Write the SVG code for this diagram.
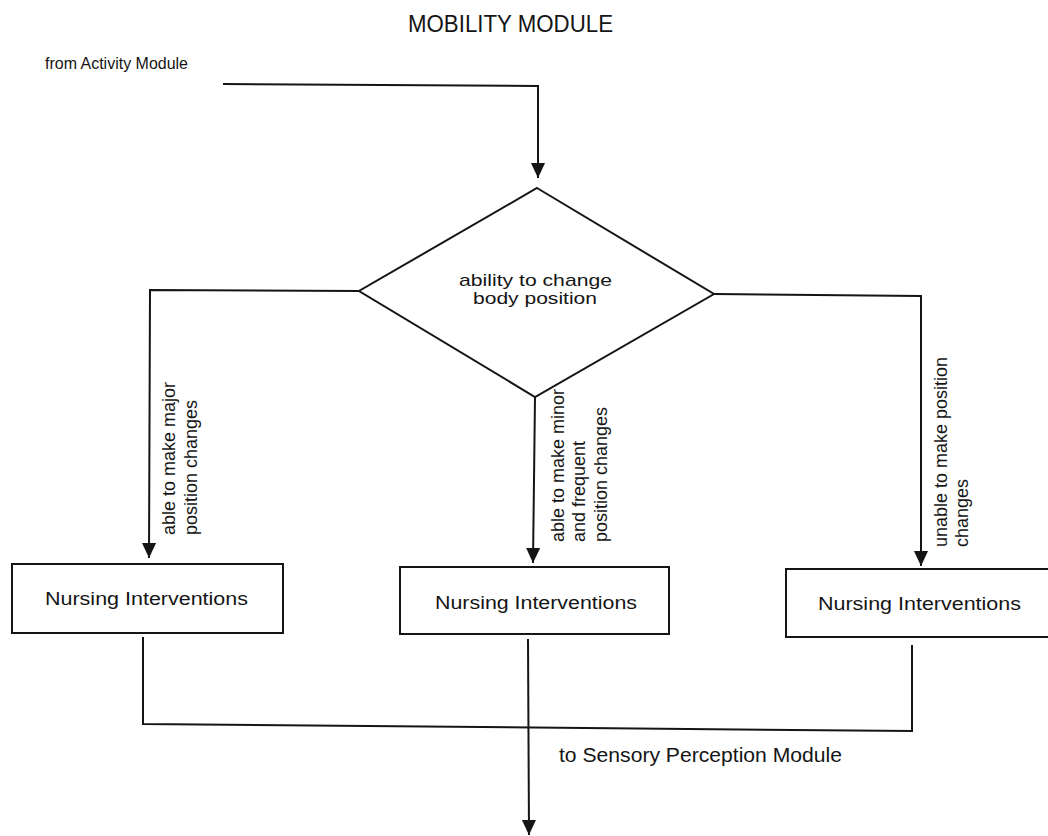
<svg xmlns="http://www.w3.org/2000/svg" width="1048" height="836" viewBox="0 0 1048 836">
<style>
  .t { font-family: "Liberation Sans", Arial, sans-serif; fill: #151515; }
  .shape { fill: #ffffff; stroke: #151515; stroke-width: 2; }
  .conn { fill: none; stroke: #151515; stroke-width: 2; }
</style>
<defs>
  <marker id="arrow" markerUnits="userSpaceOnUse" markerWidth="15" markerHeight="16" refX="16" refY="7.5" orient="auto" viewBox="0 0 16 15">
    <path d="M0,0 L16,7.5 L0,15 z" fill="#151515"/>
  </marker>
</defs>
<rect width="1048" height="836" fill="#ffffff"/>

<g id="title">
  <text class="t" x="408" y="32" font-size="23" textLength="205" lengthAdjust="spacingAndGlyphs">MOBILITY MODULE</text>
</g>

<g id="from-activity">
  <text class="t" x="45" y="69" font-size="17" textLength="143" lengthAdjust="spacingAndGlyphs">from Activity Module</text>
</g>

<g id="connectors">
  <polyline class="conn" points="223,84 538,86 538,178" marker-end="url(#arrow)"/>
  <polyline class="conn" points="359,291 150,290 149,558" marker-end="url(#arrow)"/>
  <polyline class="conn" points="535,397 533,563" marker-end="url(#arrow)"/>
  <polyline class="conn" points="714,294 921,296 921,566" marker-end="url(#arrow)"/>
  <polyline class="conn" points="143,637 143,724 912,731 912,645"/>
  <polyline class="conn" points="528,639 529,835" marker-end="url(#arrow)"/>
</g>

<g id="decision">
  <polygon class="shape" points="537,188 714,294 535,397 359,291"/>
  <text class="t" x="459" y="286" font-size="17" textLength="153" lengthAdjust="spacingAndGlyphs">ability to change</text>
  <text class="t" x="473" y="304" font-size="17" textLength="124" lengthAdjust="spacingAndGlyphs">body position</text>
</g>

<g id="label-major">
  <text class="t" font-size="18" transform="translate(175,535) rotate(-90)">able to make major</text>
  <text class="t" font-size="18" transform="translate(197,535) rotate(-90)">position changes</text>
</g>

<g id="label-minor">
  <text class="t" font-size="18" transform="translate(564,542) rotate(-90)">able to make minor</text>
  <text class="t" font-size="18" transform="translate(585,542) rotate(-90)">and frequent</text>
  <text class="t" font-size="18" transform="translate(607,542) rotate(-90)">position changes</text>
</g>

<g id="label-unable">
  <text class="t" font-size="18" transform="translate(947,547) rotate(-90)">unable to make position</text>
  <text class="t" font-size="18" transform="translate(968,547) rotate(-90)">changes</text>
</g>

<g id="nursing-1">
  <rect class="shape" x="12" y="564" width="271" height="69"/>
  <text class="t" x="45" y="605" font-size="18" textLength="203" lengthAdjust="spacingAndGlyphs">Nursing Interventions</text>
</g>

<g id="nursing-2">
  <rect class="shape" x="400" y="567" width="269" height="67"/>
  <text class="t" x="435" y="609" font-size="18" textLength="202" lengthAdjust="spacingAndGlyphs">Nursing Interventions</text>
</g>

<g id="nursing-3">
  <rect class="shape" x="786" y="569" width="270" height="68"/>
  <text class="t" x="818" y="610" font-size="18" textLength="203" lengthAdjust="spacingAndGlyphs">Nursing Interventions</text>
</g>

<g id="to-sensory">
  <text class="t" x="559" y="762" font-size="20" textLength="283" lengthAdjust="spacingAndGlyphs">to Sensory Perception Module</text>
</g>
</svg>
